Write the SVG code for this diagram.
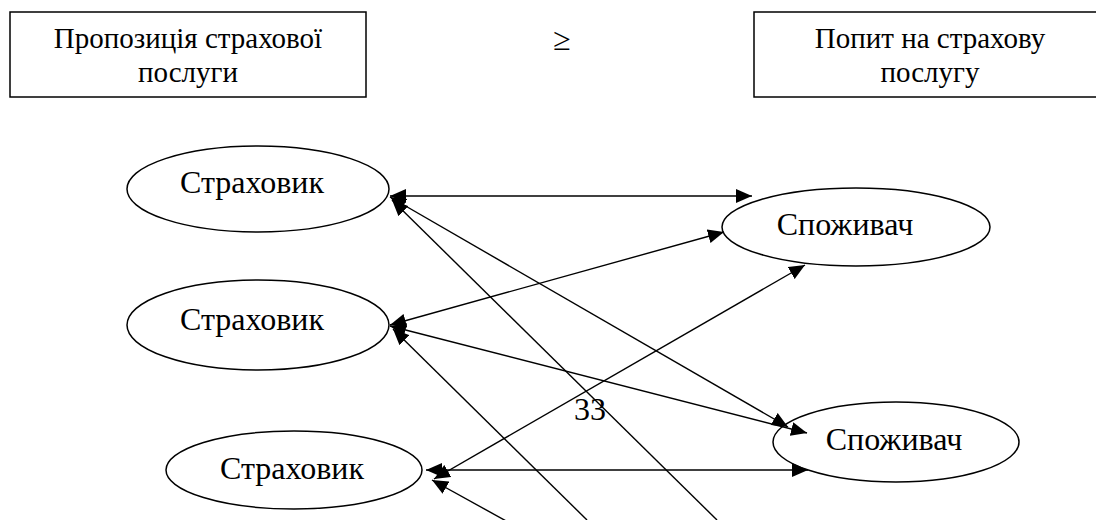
<svg xmlns="http://www.w3.org/2000/svg" width="1096" height="520" viewBox="0 0 1096 520">
  <style>
    .box { fill: #ffffff; stroke: #000000; stroke-width: 1.5; }
    .ell { fill: #ffffff; stroke: #000000; stroke-width: 1.5; }
    .t { font-family: "Liberation Serif", "Times New Roman", serif; fill: #000000; text-anchor: middle; }
    .tb { font-size: 29px; }
    .te { font-size: 32px; }
    .ln { stroke: #000000; stroke-width: 1.4; fill: none; }
  </style>
  <defs>
    <marker id="ah" viewBox="0 0 16 14" refX="16" refY="7" markerWidth="16" markerHeight="14" markerUnits="userSpaceOnUse" orient="auto-start-reverse">
      <path d="M0,0 L16,7 L0,14 z" fill="#000000"/>
    </marker>
  </defs>
  <rect width="1096" height="520" fill="#ffffff"/>

  <g id="supply">
    <rect class="box" x="10" y="12" width="356" height="85"/>
    <text class="t tb" x="188" y="48">Пропозиція страхової</text>
    <text class="t tb" x="188" y="82">послуги</text>
  </g>
  <g id="relation">
    <text class="t te" x="562" y="50">≥</text>
  </g>
  <g id="demand">
    <rect class="box" x="754" y="12" width="352" height="85"/>
    <text class="t tb" x="930" y="48">Попит на страхову</text>
    <text class="t tb" x="930" y="82">послугу</text>
  </g>

  <g id="insurer1">
    <ellipse class="ell" cx="258" cy="189" rx="131" ry="43"/>
    <text class="t te" x="252" y="193">Страховик</text>
  </g>
  <g id="insurer2">
    <ellipse class="ell" cx="258" cy="325" rx="131" ry="45"/>
    <text class="t te" x="252" y="330">Страховик</text>
  </g>
  <g id="insurer3">
    <ellipse class="ell" cx="294" cy="470" rx="128" ry="39"/>
    <text class="t te" x="292" y="479">Страховик</text>
  </g>
  <g id="consumer1">
    <ellipse class="ell" cx="856" cy="227" rx="134" ry="39"/>
    <text class="t te" x="845" y="235">Споживач</text>
  </g>
  <g id="consumer2">
    <ellipse class="ell" cx="896" cy="442" rx="123" ry="40"/>
    <text class="t te" x="894" y="450">Споживач</text>
  </g>

  <g id="connectors">
    <line class="ln" x1="390" y1="196" x2="752" y2="196" marker-start="url(#ah)" marker-end="url(#ah)"/>
    <line class="ln" x1="390" y1="197" x2="788" y2="427" marker-start="url(#ah)" marker-end="url(#ah)"/>
    <line class="ln" x1="392" y1="200" x2="717" y2="520" marker-start="url(#ah)"/>
    <line class="ln" x1="390" y1="325" x2="724" y2="232" marker-start="url(#ah)" marker-end="url(#ah)"/>
    <line class="ln" x1="390" y1="326" x2="807" y2="433" marker-start="url(#ah)" marker-end="url(#ah)"/>
    <line class="ln" x1="393" y1="329" x2="587" y2="520" marker-start="url(#ah)"/>
    <line class="ln" x1="434" y1="479" x2="805" y2="265" marker-start="url(#ah)" marker-end="url(#ah)"/>
    <line class="ln" x1="426" y1="470" x2="808" y2="470" marker-start="url(#ah)" marker-end="url(#ah)"/>
    <line class="ln" x1="432" y1="480" x2="508" y2="522" marker-start="url(#ah)"/>
  </g>

  <text class="t te" x="590" y="420">33</text>
</svg>
